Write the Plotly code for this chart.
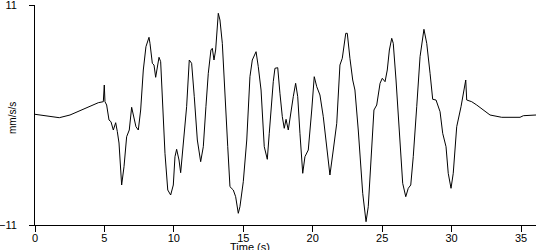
import plotly.graph_objects as go

time_s = [0.00, 1.08, 1.75, 2.52, 3.36, 3.96, 4.56, 4.92, 4.99, 5.04, 5.16, 5.33, 5.47, 5.64, 5.81, 5.93,
          6.05, 6.24, 6.41, 6.60, 6.79, 6.96, 7.13, 7.27, 7.44, 7.61, 7.80, 7.99, 8.21, 8.28, 8.45, 8.57,
          8.69, 8.81, 8.93, 9.05, 9.17, 9.36, 9.56, 9.77, 9.96, 10.08, 10.20, 10.37, 10.49, 10.68, 10.92,
          11.11, 11.28, 11.47, 11.69, 11.93, 12.12, 12.31, 12.48, 12.67, 12.77, 12.89, 13.01, 13.20, 13.32,
          13.49, 13.68, 13.88, 14.04, 14.28, 14.45, 14.64, 14.76, 15.00, 15.25, 15.48, 15.65, 15.92, 16.08,
          16.28, 16.51, 16.73, 16.87, 17.05, 17.16, 17.28, 17.48, 17.64, 17.81, 17.95, 18.08, 18.24, 18.43,
          18.60, 18.77, 18.92, 19.08, 19.28, 19.44, 19.68, 19.93, 20.11, 20.29, 20.52, 20.76, 20.96, 21.24,
          21.48, 21.73, 21.96, 22.13, 22.38, 22.49, 22.68, 22.88, 23.04, 23.28, 23.60, 23.84, 24.00, 24.25,
          24.41, 24.61, 24.85, 25.01, 25.21, 25.37, 25.52, 25.69, 25.80, 26.00, 26.24, 26.48, 26.70, 26.88,
          27.06, 27.24, 27.49, 27.73, 28.01, 28.21, 28.45, 28.64, 28.88, 29.04, 29.17, 29.36, 29.60, 29.76,
          29.96, 30.12, 30.37, 30.68, 30.92, 31.02, 31.09, 31.45, 31.81, 32.77, 33.61, 34.93, 35.17, 36.08]

accel = [0.07, -0.17, -0.27, 0.00, 0.50, 0.90, 1.23, 1.33, 3.00, 1.33, 1.00, -0.50, -0.67, -1.50, -0.77, -1.67,
         -2.80, -7.00, -5.17, -2.17, -1.50, 0.77, -0.17, -1.17, -1.50, 0.50, 4.50, 6.83, 7.77, 7.17, 5.17, 5.00,
         3.77, 5.00, 5.77, 5.33, 1.50, -3.83, -7.50, -8.00, -7.00, -4.17, -3.43, -4.50, -5.77, -2.83, 0.83,
         5.50, 5.17, 1.83, -2.50, -4.67, -3.17, 0.83, 4.17, 6.50, 6.67, 5.50, 6.50, 10.17, 9.50,
         7.17, 2.67, -3.17, -7.17, -7.50, -8.17, -9.83, -9.17, -6.67, -2.50, 3.83, 5.50, 6.33, 4.83,
         2.50, -3.17, -4.43, -1.83, 1.50, 3.33, 4.67, 4.73, 2.17, -0.17, -1.33, -0.43, -1.50, 0.50,
         1.83, 3.17, 1.83, -1.83, -5.83, -4.17, -3.50, 0.50, 3.83, 2.83, 2.00, -0.17, -2.50, -6.00,
         -3.50, -0.83, 5.00, 5.67, 8.17, 8.17, 5.67, 3.50, 2.50, -1.50, -7.83, -10.67, -9.17, -3.50,
         0.50, 1.00, 3.17, 3.67, 3.33, 4.50, 6.50, 7.67, 7.17, 3.50, -1.17, -6.83, -8.17, -7.33,
         -7.00, -4.17, 0.83, 5.83, 8.57, 7.17, 4.17, 1.57, 1.50, 0.83, 0.33, -1.83, -3.17, -5.83,
         -7.33, -5.83, -1.17, 0.83, 2.83, 3.50, 1.50, 1.33, 1.00, 0.00, -0.23, -0.23, -0.07, 0.00]

x_ticks = [0, 5, 10, 15, 20, 25, 30, 35]
y_ticks = [-11, 11]

font = dict(family="Liberation Sans, Arial, sans-serif", size=11, color="black")

fig = go.Figure(go.Scatter(x=time_s, y=accel, mode="lines",
                           line=dict(color="black", width=1, shape="linear"),
                           hoverinfo="skip"))

fig.update_layout(
    width=550, height=250,
    margin=dict(l=35, r=14, t=5, b=25),
    paper_bgcolor="white", plot_bgcolor="white",
    showlegend=False, font=font,
    xaxis=dict(range=[0, 36.08], tickvals=x_ticks, ticks="outside", ticklen=6,
               tickcolor="black", showgrid=False, zeroline=False, showline=True,
               linecolor="black", linewidth=1, tickfont=font, fixedrange=True,
               automargin=False, ticklabeloverflow="allow", ticklabelstandoff=-3),
    yaxis=dict(range=[-11, 11], tickvals=y_ticks, ticks="outside", ticklen=5,
               tickcolor="black", showgrid=False, zeroline=False, showline=True,
               linecolor="black", linewidth=1, tickfont=font, ticklabelstandoff=10,
               fixedrange=True, automargin=False, ticklabeloverflow="allow"),
    annotations=[
        dict(text="Time (s)", x=0.43, y=-0.0682, xref="paper", yref="paper",
             xanchor="center", yanchor="top", showarrow=False, borderpad=0,
             font=dict(family="Liberation Sans, Arial, sans-serif", size=11, color="black")),
        dict(text="mm/s/s", x=-0.046, y=0.486, xref="paper", yref="paper",
             xanchor="center", yanchor="middle", showarrow=False, textangle=-90,
             font=dict(family="Liberation Sans, Arial, sans-serif", size=10, color="black")),
    ],
)

fig.write_html("out.html")
